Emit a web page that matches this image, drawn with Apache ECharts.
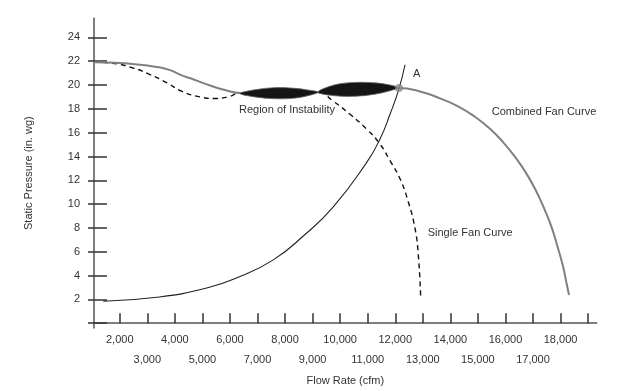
<!DOCTYPE html>
<html>
<head>
<meta charset="utf-8">
<script src="https://cdn.jsdelivr.net/npm/echarts@6/dist/echarts.min.js"></script>
<style>html,body{margin:0;padding:0;background:#fff}#c{width:624px;height:391px}</style>
</head>
<body>
<div id="c"></div>
<script>
// ---- data (flow rate in cfm, static pressure in in. wg) ----
const xTicks = [2000,3000,4000,5000,6000,7000,8000,9000,10000,11000,12000,13000,14000,15000,16000,17000,18000,19000];
const xLabelsUpper = [2000,4000,6000,8000,10000,12000,14000,16000,18000];
const xLabelsLower = [3000,5000,7000,9000,11000,13000,15000,17000];
const yTicks = [0,2,4,6,8,10,12,14,16,18,20,22,24];
const yLabels = [2,4,6,8,10,12,14,16,18,20,22,24];

const combinedFan = [
  [1065,21.92],[1828,21.875],[2554,21.75],[3280,21.54],[3824,21.25],[4187,20.875],[4731,20.42],
  [5276,19.96],[5820,19.58],[6365,19.33],[7820,19.42],[9196,19.4],[10648,19.62],[12136,19.75],
  [12898,19.46],[13624,18.875],[14278,18.21],[14895,17.33],[15439,16.33],[15911,15.21],
  [16347,13.96],[16746,12.625],[17109,11.125],[17436,9.46],[17690,7.96],[17907,6.29],
  [18089,4.79],[18216,3.375],[18307,2.375]
];
const singleFan = [
  [1065,21.92],[1646,21.85],[2481,21.43],[3098,20.88],[3715,20.18],[4260,19.46],[4913,19.0],
  [5457,18.87],[5929,19.0],[6365,19.3],[7820,19.35],[9196,19.4],[9740,18.65],[10358,17.54],
  [10964,16.29],[11446,15.04],[11809,13.65],[12172,12.13],[12474,10.18],[12717,7.96],
  [12837,5.73],[12924,2.13]
];
const systemCurve = [
  [1403,1.85],[3341,2.18],[5156,2.96],[6365,3.93],[7574,5.32],[8652,7.3],[9751,9.77],
  [10964,13.5],[11446,15.46],[11809,17.54],[12136,19.7],[12354,21.7]
];
const pointA = [[12136,19.75]];
// instability lenses: [flow, upper pressure, lower pressure]
const lens1 = [[6365,19.29,19.29],[6909,19.6,19.0],[7635,19.78,18.85],[8361,19.72,18.9],[8906,19.55,19.15],[9196,19.4,19.4]];
const lens2 = [[9196,19.4,19.4],[9813,20.02,19.1],[10539,20.22,19.05],[11265,20.18,19.23],[11809,20.0,19.52],[12100,19.77,19.77]];
const lenses = [lens1, lens2];

const FONT = "'Liberation Sans',Arial,sans-serif";
const TXT = '#333';
const X_MIN = 1065, X_MAX = 19312, Y_MIN = -0.4, Y_MAX = 25.6;

function fmt(v){ return String(v).replace(/\B(?=(\d{3})+(?!\d))/g, ','); }

const chart = echarts.init(document.getElementById('c'), null, {renderer:'canvas'});
chart.setOption({
  animation:false,
  backgroundColor:'#fff',
  grid:{left:94, right:27.3, top:18.3, bottom:60.7, containLabel:false},
  xAxis:[{
    type:'value', min:X_MIN, max:X_MAX,
    axisLine:{show:true, onZero:true, lineStyle:{color:'#555', width:1.5}},
    axisTick:{show:true, inside:true, length:10, customValues:xTicks, lineStyle:{color:'#333', width:1.5}},
    axisLabel:{show:true, customValues:xLabelsUpper, showMinLabel:true, showMaxLabel:true,
      margin:5.5, lineHeight:13, fontSize:11, fontFamily:FONT, color:TXT, formatter:fmt},
    splitLine:{show:false},
    name:'Flow Rate (cfm)', nameLocation:'middle', nameGap:47,
    nameTextStyle:{fontSize:11, fontFamily:FONT, color:TXT}
  },{
    type:'value', min:X_MIN, max:X_MAX, position:'bottom',
    axisLine:{show:false, onZero:true},
    axisTick:{show:false},
    axisLabel:{show:true, customValues:xLabelsLower, showMinLabel:true, showMaxLabel:true,
      margin:25, lineHeight:13, fontSize:11, fontFamily:FONT, color:TXT, formatter:fmt},
    splitLine:{show:false}
  }],
  yAxis:[{
    type:'value', min:Y_MIN, max:Y_MAX, position:'left',
    axisLine:{show:true, lineStyle:{color:'#555', width:1.5}},
    axisTick:{show:true, inside:false, length:6, customValues:yTicks, lineStyle:{color:'#333', width:1.5}},
    axisLabel:{show:true, customValues:yLabels, showMinLabel:true, showMaxLabel:true, margin:14, fontSize:11, fontFamily:FONT, color:TXT},
    splitLine:{show:false},
    name:'Static Pressure (in. wg)', nameLocation:'middle', nameGap:60,
    nameTextStyle:{fontSize:11, fontFamily:FONT, color:TXT}
  },{
    type:'value', min:Y_MIN, max:Y_MAX, position:'left',
    axisLine:{show:false},
    axisTick:{show:true, inside:true, length:13, customValues:yTicks, lineStyle:{color:'#333', width:1.5}},
    axisLabel:{show:false},
    splitLine:{show:false}
  }],
  series:[
    {type:'line', name:'System', data:systemCurve, smooth:0.5, symbol:'none', z:3,
     lineStyle:{color:'#222', width:1.1}},
    {type:'line', name:'Single Fan Curve', data:singleFan, smooth:0.5, symbol:'none', z:2,
     lineStyle:{color:'#111', width:1.4, type:[5,4]}},
    {type:'line', name:'Combined Fan Curve', data:combinedFan, smooth:0.5, symbol:'none', z:2,
     lineStyle:{color:'#808080', width:2}},
    {type:'custom', name:'Region of Instability', z:4,
     data:lenses.map(function(l){ return [l[0][0], l[0][1]]; }),
     renderItem:function(params, api){
       const l = lenses[params.dataIndex];
       const top = l.map(function(d){ return api.coord([d[0], d[1]]); });
       const bot = l.slice().reverse().map(function(d){ return api.coord([d[0], d[2]]); });
       return {type:'polygon', shape:{points: top.concat(bot.slice(1,-1)), smooth:0.35},
               style:{fill:'#151515', stroke:'#666', lineWidth:0.8}};
     }},
    {type:'scatter', name:'A', data:pointA, symbol:'circle', symbolSize:8, z:5,
     itemStyle:{color:'#8a8a8a'}}
  ],
  graphic:[
    {type:'text', style:{text:'Region of Instability', x:239, y:110, font:'11px '+FONT, fill:TXT, textVerticalAlign:'middle', verticalAlign:'middle'}},
    {type:'text', style:{text:'A', x:416.7, y:74, font:'11px '+FONT, fill:TXT, textAlign:'center', align:'center', textVerticalAlign:'middle', verticalAlign:'middle'}},
    {type:'text', style:{text:'Combined Fan Curve', x:491.7, y:111.7, font:'11px '+FONT, fill:TXT, textVerticalAlign:'middle', verticalAlign:'middle'}},
    {type:'text', style:{text:'Single Fan Curve', x:427.7, y:233.3, font:'11px '+FONT, fill:TXT, textVerticalAlign:'middle', verticalAlign:'middle'}}
  ]
});
</script>
</body>
</html>
